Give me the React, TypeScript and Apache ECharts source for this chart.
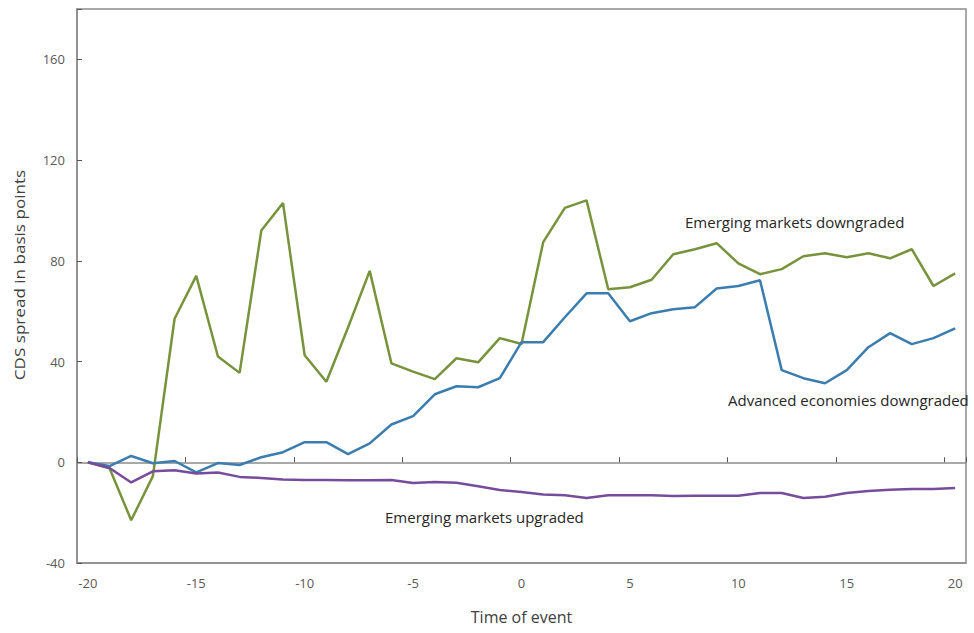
import React, { useEffect, useRef } from "react";
import * as echarts from "echarts";

const categories = [
  "-20", "-19", "-18", "-17", "-16", "-15", "-14", "-13", "-12", "-11",
  "-10", "-9", "-8", "-7", "-6", "-5", "-4", "-3", "-2", "-1",
  "0", "1", "2", "3", "4", "5", "6", "7", "8", "9",
  "10", "11", "12", "13", "14", "15", "16", "17", "18", "19", "20",
];

const emergingDowngraded = [
  0, -2.4, -23, -5.5, 57, 74, 42, 35.5, 92, 103,
  42.5, 32, 53.5, 76, 39.3, 36, 33, 41.3, 39.7, 49.3,
  47, 87.4, 101, 104, 68.7, 69.5, 72.5, 82.6, 84.6, 87,
  79, 74.7, 76.7, 81.8, 83, 81.4, 83, 81, 84.6, 70, 75,
];

const advancedDowngraded = [
  0, -1.5, 2.5, -0.4, 0.5, -4, -0.3, -1.1, 2, 4,
  8, 8, 3.2, 7.5, 15, 18.3, 27, 30.2, 29.8, 33.4,
  47.7, 47.7, 57.6, 67.1, 67.1, 56, 59.2, 60.8, 61.6, 69,
  70, 72.3, 36.6, 33.4, 31.4, 36.6, 45.7, 51.3, 46.9, 49.3, 53.2,
];

const emergingUpgraded = [
  0, -2.3, -8, -3.6, -3.2, -4.5, -4.1, -5.8, -6.2, -6.8,
  -7, -7, -7.1, -7.1, -7, -8.2, -7.8, -8.1, -9.5, -11,
  -11.8, -12.8, -13.1, -14.2, -13.1, -13.1, -13.1, -13.4, -13.3, -13.3,
  -13.3, -12.2, -12.2, -14.2, -13.7, -12.2, -11.4, -10.9, -10.6, -10.6, -10.2,
];

const yTicks = [-40, 0, 40, 80, 120, 160];

const FONT = '"Open Sans", "Liberation Sans", Arial, sans-serif';
const AXIS_COLOR = "#8c8c8c";
const LABEL_COLOR = "#595959";
const TEXT_COLOR = "#262626";

export default function App() {
  const ref = useRef<HTMLDivElement>(null);

  useEffect(() => {
    if (!ref.current) return;
    const chart = echarts.init(ref.current, null, { renderer: "svg" });
    chart.setOption({
      animation: false,
      backgroundColor: "#ffffff",
      textStyle: { fontFamily: FONT },
      grid: {
        left: 77,
        right: 8,
        top: 9,
        bottom: 70,
        show: true,
        borderColor: AXIS_COLOR,
        borderWidth: 1.5,
      },
      xAxis: [
        {
          type: "category",
          data: categories,
          boundaryGap: true,
          position: "bottom",
          axisLine: { onZero: false, lineStyle: { color: AXIS_COLOR, width: 1.5 } },
          axisTick: { show: false },
          axisLabel: {
            interval: 4,
            color: LABEL_COLOR,
            fontSize: 13,
            fontFamily: FONT,
            margin: 13,
          },
          name: "Time of event",
          nameLocation: "middle",
          nameGap: 46,
          nameTextStyle: { color: "#404040", fontSize: 16, fontFamily: FONT },
          splitLine: { show: false },
        },
        {
          type: "category",
          data: categories,
          boundaryGap: true,
          position: "bottom",
          axisLine: { onZero: true, lineStyle: { color: AXIS_COLOR, width: 1.5 } },
          axisTick: {
            show: true,
            inside: true,
            interval: 4,
            length: 5,
            lineStyle: { color: "#555555" },
          },
          axisLabel: { show: false },
          splitLine: { show: false },
        },
      ],
      yAxis: {
        type: "value",
        min: -40,
        max: 180,
        interval: 40,
        axisLine: { show: true, lineStyle: { color: AXIS_COLOR, width: 1.5 } },
        axisTick: { show: true, inside: true, length: 5, lineStyle: { color: "#555555" } },
        axisLabel: {
          color: LABEL_COLOR,
          fontSize: 13,
          fontFamily: FONT,
          margin: 12,
          formatter: (v: number) => (yTicks.includes(v) ? String(v) : ""),
        },
        splitLine: { show: false },
      },
      series: [
        {
          name: "Emerging markets downgraded",
          type: "line",
          xAxisIndex: 0,
          data: emergingDowngraded,
          symbol: "none",
          lineStyle: { color: "#77933C", width: 2.5 },
          itemStyle: { color: "#77933C" },
          z: 2,
        },
        {
          name: "Advanced economies downgraded",
          type: "line",
          xAxisIndex: 0,
          data: advancedDowngraded,
          symbol: "none",
          lineStyle: { color: "#3A7DAE", width: 2.5 },
          itemStyle: { color: "#3A7DAE" },
          z: 3,
        },
        {
          name: "Emerging markets upgraded",
          type: "line",
          xAxisIndex: 0,
          data: emergingUpgraded,
          symbol: "none",
          lineStyle: { color: "#774C9C", width: 2.5 },
          itemStyle: { color: "#774C9C" },
          z: 4,
        },
      ],
      graphic: [
        {
          type: "text",
          x: 20,
          y: 275,
          rotation: Math.PI / 2,
          scaleX: 1.22,
          style: {
            text: "CDS spread in basis points",
            fill: "#404040",
            font: `14px ${FONT}`,
            textAlign: "center",
            textVerticalAlign: "middle",
            verticalAlign: "middle",
          },
        },
        {
          type: "text",
          left: 685,
          top: 214,
          style: { text: "Emerging markets downgraded", fill: TEXT_COLOR, font: `15px ${FONT}` },
        },
        {
          type: "text",
          left: 728,
          top: 392,
          style: { text: "Advanced economies downgraded", fill: TEXT_COLOR, font: `15px ${FONT}` },
        },
        {
          type: "text",
          left: 385,
          top: 509,
          style: { text: "Emerging markets upgraded", fill: TEXT_COLOR, font: `15px ${FONT}` },
        },
      ],
    });
    return () => chart.dispose();
  }, []);

  return (
    <div
      ref={ref}
      style={{ position: "fixed", left: 0, top: 0, width: 974, height: 633 }}
    />
  );
}
